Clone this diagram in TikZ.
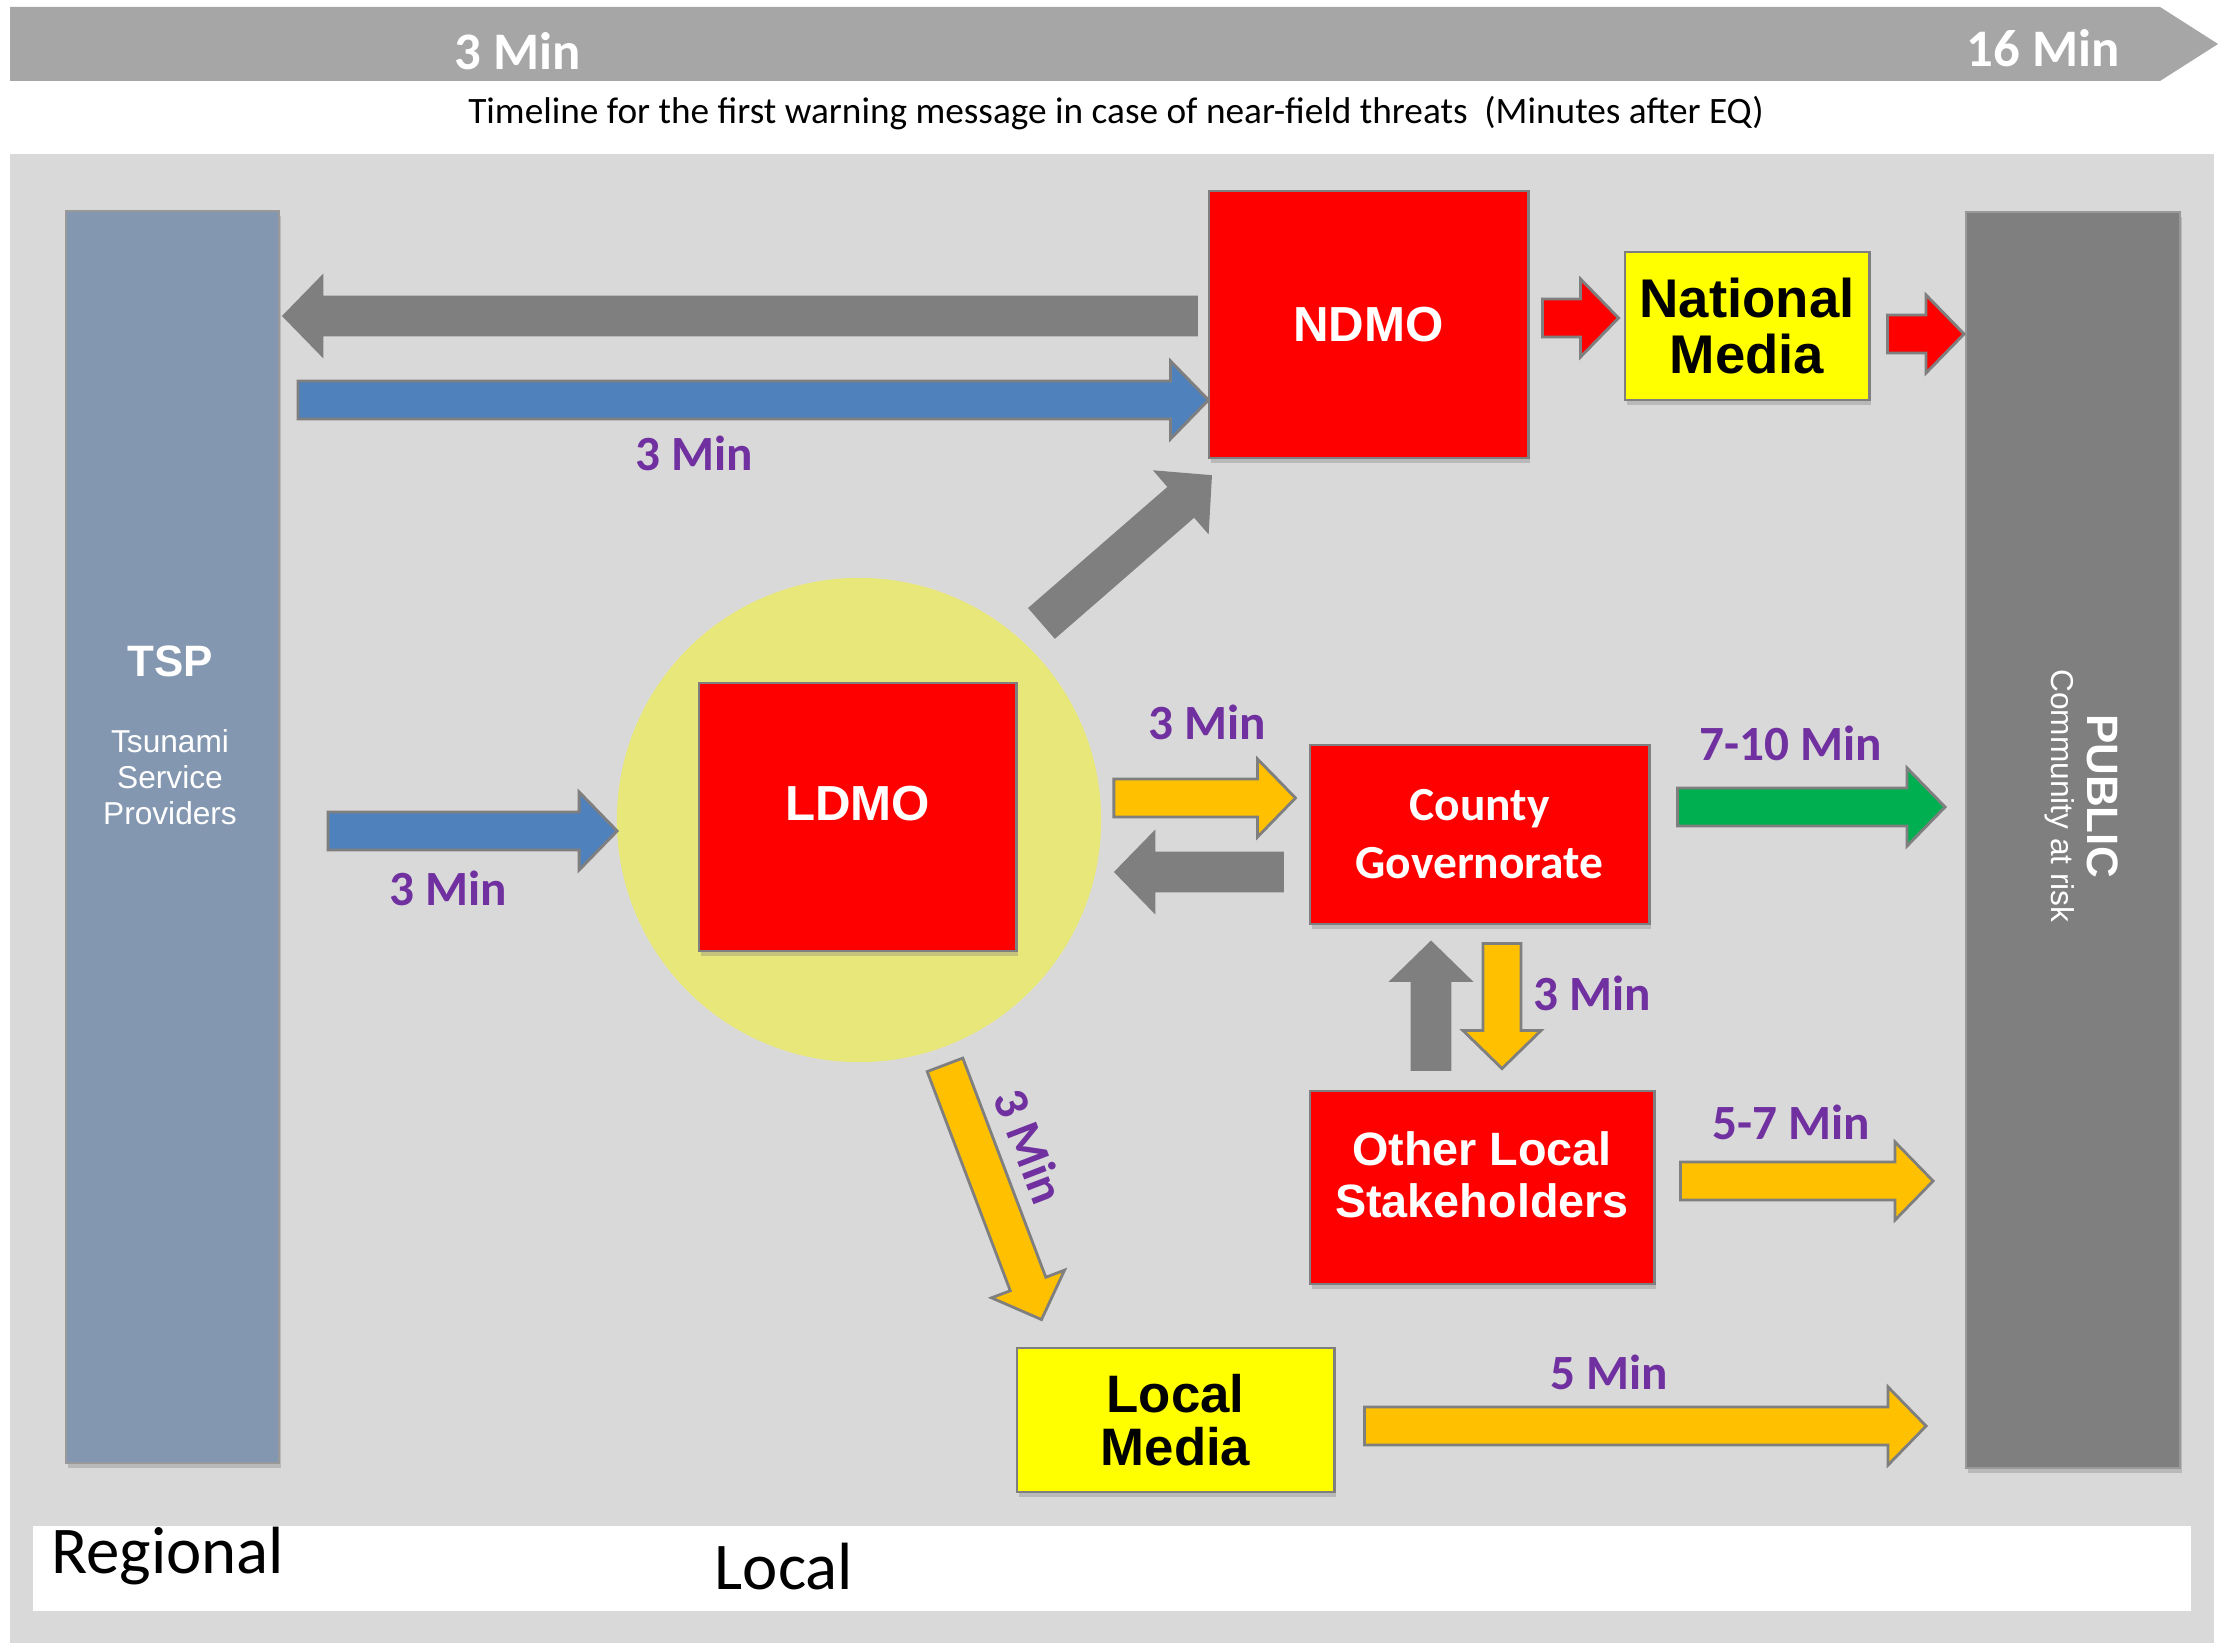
\documentclass[tikz,border=0pt]{standalone}
\usepackage{fontspec}
\setmainfont{Carlito}
\newfontfamily\arialfont{Liberation Sans}
\usetikzlibrary{calc,shadows}

\definecolor{bggray}{RGB}{217,217,217}
\definecolor{bannergray}{RGB}{166,166,166}
\definecolor{tspblue}{RGB}{132,151,176}
\definecolor{publicgray}{RGB}{127,127,127}
\definecolor{halofill}{RGB}{232,232,122}
\definecolor{boxred}{RGB}{255,0,0}
\definecolor{mediayellow}{RGB}{255,255,0}
\definecolor{arrowblue}{RGB}{79,129,189}
\definecolor{arrowamber}{RGB}{255,192,0}
\definecolor{arrowgreen}{RGB}{0,176,80}
\definecolor{minpurple}{RGB}{112,48,160}

\tikzstyle{agency} = [rectangle, draw=publicgray, line width=0.8pt, fill=boxred, text=white, align=center, inner sep=0pt, drop shadow={shadow xshift=0.02cm, shadow yshift=-0.05cm, opacity=0.35}]
\tikzstyle{media} = [agency, fill=mediayellow, text=black, font=\arialfont\bfseries\fontsize{15.5}{16}\selectfont]
\tikzstyle{bar} = [rectangle, draw=publicgray!80, line width=0.5pt, inner sep=0pt, minimum width=2.13cm, drop shadow={shadow xshift=0.02cm, shadow yshift=-0.05cm, opacity=0.35}]
\tikzstyle{mins} = [text=minpurple, font=\bfseries\fontsize{14}{16}\selectfont]
\tikzstyle{bannertext} = [text=white, font=\bfseries\fontsize{15}{17}\selectfont]
\tikzstyle{flow} = [draw=publicgray, line width=0.8pt, line join=miter]

\newcommand{\flowarrow}[3]{%
  \coordinate (fh) at ($(#3)!0.38cm!(#2)$);
  \filldraw[flow, fill=#1] ($(#2)!0.19cm!90:(#3)$) -- ($(fh)!0.19cm!90:(#3)$) -- ($(fh)!0.39cm!90:(#3)$) -- (#3)
    -- ($(fh)!0.39cm!-90:(#3)$) -- ($(fh)!0.19cm!-90:(#3)$) -- ($(#2)!0.19cm!-90:(#3)$) -- cycle;}

\begin{document}
\begin{tikzpicture}[x=0.01cm, y=-0.01cm]
    \useasboundingbox (0,0) rectangle (2218,1643);
    \fill[white] (0,0) rectangle (2218,1643);
    \fill[bannergray] (10,7) -- (2160,7) -- (2218,44) -- (2160,81) -- (10,81) -- cycle;
    \node (t3) [bannertext] at (518,51) {3 Min};
    \node (t16) [bannertext] at (2043,48) {16 Min};
    \node (timeline) [font=\fontsize{10.6}{12}\selectfont] at (1116,113) {Timeline for the first warning message in case of near-field threats~~(Minutes after EQ)};
    \fill[bggray] (10,154) rectangle (2214,1643);
    \fill[white] (33,1526) rectangle (2191,1611);
    \node (regional) [anchor=west, font=\fontsize{19}{22}\selectfont] at (39,1556) {Regional};
    \node (local) [font=\fontsize{19}{22}\selectfont] at (784,1567) {Local};

    \node (tsp) [bar, fill=tspblue, minimum height=12.52cm] at (172.5,837) {};
    \node (tspname) [text=white, font=\arialfont\bfseries\fontsize{12.5}{14}\selectfont] at (170,661) {TSP};
    \node (tspfull) [text=white, align=center, font=\arialfont\fontsize{9}{10.2}\selectfont] at (170,777) {Tsunami\\Service\\Providers};
    \node (public) [bar, fill=publicgray, minimum width=2.14cm, minimum height=12.56cm] at (2073,840) {};
    \node (pubname) [rotate=-90, text=white, font=\arialfont\bfseries\fontsize{12.5}{14}\selectfont] at (2103,796) {PUBLIC};
    \node (pubfull) [rotate=-90, text=white, font=\arialfont\fontsize{9}{11}\selectfont] at (2060,796) {Community at risk};

    \node (halo) [circle, fill=halofill, minimum size=4.84cm, inner sep=0pt] at (859,820) {};
    \node (ndmo) [agency, minimum width=3.19cm, minimum height=2.67cm, font=\arialfont\bfseries\fontsize{14}{16}\selectfont] at (1368.5,324.5) {NDMO};
    \node (natmedia) [media, minimum width=2.44cm, minimum height=1.48cm] at (1747,326) {National\\Media};
    \node (ldmo) [agency, minimum width=3.17cm, minimum height=2.68cm, font=\arialfont\bfseries\fontsize{14}{16}\selectfont] at (857.5,817) {LDMO\\[-8pt]};
    \node (county) [agency, minimum width=3.39cm, minimum height=1.79cm, font=\bfseries\fontsize{13.5}{16.5}\selectfont] at (1479.5,834.5) {County\\Governorate};
    \node (other) [agency, minimum width=3.44cm, minimum height=1.93cm, font=\arialfont\bfseries\fontsize{13.3}{14.8}\selectfont] at (1482,1187.5) {Other Local\\Stakeholders\\[-7.7pt]};
    \node (locmedia) [media, minimum width=3.17cm, minimum height=1.44cm, font=\arialfont\bfseries\fontsize{15}{15}\selectfont] at (1175.5,1420) {Local\\Media};

    \coordinate (a1) at ($(ndmo.west)+(-11,-8.5)$);
    \coordinate (a2) at ($(tsp.east |- a1)+(4,0)$);
    \coordinate (b1) at ($(tsp.east)+(18,-437)$);
    \coordinate (b2) at ($(ndmo.west |- b1)+(1,0)$);
    \coordinate (c1) at ($(ldmo.north east)+(25,-59)$);
    \coordinate (c2) at ($(ndmo.south west)+(3,17)$);
    \coordinate (d1) at ($(ndmo.east)+(13,-6.5)$);
    \coordinate (d2) at ($(natmedia.west |- d1)+(-5,0)$);
    \coordinate (e1) at ($(natmedia.east)+(17,8)$);
    \coordinate (e2) at ($(public.west |- e1)+(-1,0)$);
    \coordinate (f1) at ($(tsp.east)+(48,-6)$);
    \coordinate (f2) at ($(halo.west |- f1)+(1,0)$);
    \coordinate (g2) at ($(county.west)+(-13,-36.5)$);
    \coordinate (g1) at ($(g2 -| halo.east)+(12,0)$);
    \coordinate (h1) at ($(county.west)+(-26,37.5)$);
    \coordinate (h2) at ($(h1 -| halo.east)+(14,0)$);
    \coordinate (i1) at ($(county.east)+(27,-27.5)$);
    \coordinate (i2) at ($(public.west |- i1)+(-20,0)$);
    \coordinate (j1) at ($(other.north)+(-51,-20)$);
    \coordinate (j2) at ($(j1 |- county.south)+(0,17)$);
    \coordinate (k1) at ($(county.south)+(22.5,18)$);
    \coordinate (k2) at ($(k1 |- other.north)+(0,-21)$);
    \coordinate (l1) at ($(halo.south)+(86,2)$);
    \coordinate (l2) at ($(locmedia.north west)+(26,-27)$);
    \coordinate (m1) at ($(other.east)+(25,-6.5)$);
    \coordinate (m2) at ($(public.west |- m1)+(-32,0)$);
    \coordinate (n1) at ($(locmedia.east)+(29,6)$);
    \coordinate (n2) at ($(public.west |- n1)+(-39,0)$);

    \flowarrow{publicgray}{a1}{a2}
    \flowarrow{arrowblue}{b1}{b2}
    \flowarrow{publicgray}{c1}{c2}
    \flowarrow{boxred}{d1}{d2}
    \flowarrow{boxred}{e1}{e2}
    \flowarrow{arrowblue}{f1}{f2}
    \flowarrow{arrowamber}{g1}{g2}
    \flowarrow{publicgray}{h1}{h2}
    \flowarrow{arrowgreen}{i1}{i2}
    \flowarrow{publicgray}{j1}{j2}
    \flowarrow{arrowamber}{k1}{k2}
    \flowarrow{arrowamber}{l1}{l2}
    \flowarrow{arrowamber}{m1}{m2}
    \flowarrow{arrowamber}{n1}{n2}

    \node (mb) [mins] at (694,453) {3 Min};
    \node (mf) [mins] at (448,888) {3 Min};
    \node (mg) [mins] at (1207,722) {3 Min};
    \node (mi) [mins] at (1791,743) {7-10 Min};
    \node (mk) [mins] at (1592,993) {3 Min};
    \node (ml) [mins, rotate=-69] at (1030,1146) {3 Min};
    \node (mm) [mins] at (1791,1122) {5-7 Min};
    \node (mn) [mins] at (1609,1372) {5 Min};
\end{tikzpicture}
\end{document}
